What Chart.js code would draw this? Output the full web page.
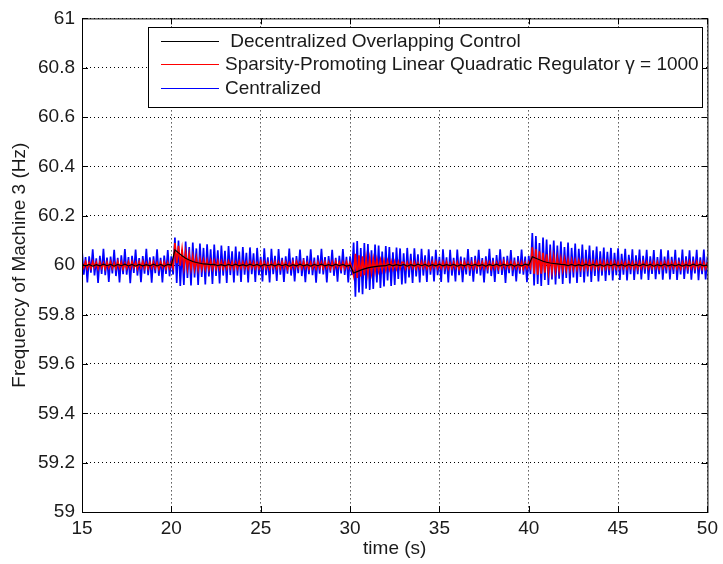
<!DOCTYPE html>
<html>
<head>
<meta charset="utf-8">
<script src="https://cdn.jsdelivr.net/npm/chart.js@4.4.0/dist/chart.umd.min.js"></script>
<style>
html, body { margin: 0; padding: 0; background: #fff; }
#wrap { width: 723px; height: 564px; }
</style>
</head>
<body>
<div id="wrap"><canvas id="freqChart" width="723" height="564"></canvas></div>
<script>
// ============================================
// FREQUENCY OF MACHINE 3 - three controllers
// values are deviations from 60 Hz in mHz
// ============================================

const T_START = 15;
const STEP_FAST = 0.1;   // blue + red samples
const STEP_SLOW = 0.2;   // black samples

const xTicks = [15, 20, 25, 30, 35, 40, 45, 50];
const yTicks = [59, 59.2, 59.4, 59.6, 59.8, 60, 60.2, 60.4, 60.6, 60.8, 61];

const seriesNames = [' Decentralized Overlapping Control', 'Sparsity-Promoting Linear Quadratic Regulator \u03b3 = 1000', 'Centralized'];

// Centralized (blue), one row per second
const centralizedDev = [
    60,-38,33,-70,36,-30,64,-41,28,-72,
    38,-35,66,-40,31,-68,35,-33,62,-44,
    30,-70,40,-36,65,-38,33,-73,38,-31,
    63,-42,29,-69,37,-34,66,-40,32,-71,
    36,-32,64,-43,30,-70,39,-35,61,-45,
    36,-38,112,-72,100,-84,62,-80,96,-52,
    74,-82,92,-50,68,-80,88,-48,70,-78,
    85,-46,64,-76,84,-44,60,-74,80,-42,
    58,-72,78,-40,56,-70,76,-42,55,-68,
    74,-38,50,-70,72,-36,48,-68,70,-40,
    34,-66,68,-40,32,-70,66,-36,38,-64,
    65,-38,30,-68,36,-34,67,-42,31,-66,
    37,-32,63,-44,29,-69,38,-36,64,-40,
    31,-71,40,-34,66,-37,33,-70,37,-30,
    62,-43,30,-67,38,-33,65,-39,34,-70,
    36,-40,92,-128,98,-110,70,-118,90,-95,
    86,-100,60,-96,84,-70,80,-92,55,-86,
    78,-62,74,-84,52,-80,72,-56,68,-78,
    48,-74,70,-50,46,-72,68,-46,44,-70,
    66,-42,40,-68,64,-38,36,-66,62,-40,
    34,-68,64,-36,32,-70,62,-42,30,-66,
    63,-40,35,-69,31,-37,65,-43,33,-67,
    38,-34,62,-41,29,-70,36,-33,66,-44,
    30,-68,41,-35,64,-39,34,-72,38,-32,
    61,-44,31,-66,37,-34,63,-38,35,-69,
    38,-36,130,-82,118,-76,90,-84,112,-60,
    104,-80,84,-58,100,-78,80,-55,96,-76,
    74,-52,92,-74,70,-50,88,-72,66,-48,
    84,-70,62,-46,80,-68,60,-44,76,-66,
    56,-42,72,-64,54,-40,70,-62,50,-40,
    68,-60,46,-38,66,-62,42,-36,64,-60,
    40,-36,63,-58,38,-34,62,-60,36,-35,
    61,-57,33,-36,64,-59,35,-33,60,-58,
    34,-35,62,-60,31,-37,63,-56,36,-34,
    60,-59,35,-33,62,-61,32,-36,63,-58,
    35
];

// Sparsity-promoting LQR (red), one row per second
const sparseLqrDev = [
    12,-9,14,-13,10,-12,15,-8,11,-14,
    13,-11,9,-15,12,-10,14,-12,10,-13,
    15,-10,12,-14,9,-12,13,-11,14,-9,
    11,-14,13,-9,15,-12,10,-13,12,-11,
    14,-12,10,-15,12,-9,13,-14,11,-12,
    12,-10,90,8,78,-2,64,-8,52,-12,
    44,-14,36,-16,30,-17,25,-16,21,-15,
    20,-16,18,-15,17,-14,16,-15,15,-14,
    14,-13,15,-12,13,-14,12,-13,14,-11,
    13,-12,11,-14,14,-10,12,-13,10,-12,
    15,-11,13,-12,10,-14,12,-9,14,-13,
    11,-13,14,-10,12,-15,9,-12,13,-11,
    14,-9,12,-13,15,-11,10,-14,12,-12,
    10,-14,13,-11,12,-13,14,-10,11,-15,
    13,-12,15,-9,11,-14,12,-13,14,-10,
    12,-10,-42,46,-52,40,-46,36,-40,30,
    -34,28,-30,25,-26,22,-22,20,-20,18,
    -18,17,-16,15,-15,14,-14,13,-13,12,
    12,-13,11,-12,13,-11,12,-14,10,-12,
    14,-10,12,-13,11,-15,13,-9,15,-12,
    10,-12,14,-11,13,-14,9,-13,12,-10,
    13,-15,11,-12,14,-9,12,-14,10,-13,
    15,-11,13,-10,12,-13,14,-12,11,-14,
    11,-13,10,-14,13,-12,15,-10,12,-11,
    14,-12,12,-11,10,-13,13,-15,11,-12,
    12,-10,72,-34,64,-38,56,-34,50,-30,
    44,-28,38,-26,34,-24,30,-22,27,-20,
    25,-19,22,-18,20,-17,19,-16,18,-15,
    17,-15,16,-14,15,-14,15,-13,14,-13,
    16,-14,15,-13,14,-12,15,-13,14,-12,
    13,-12,14,-11,12,-13,13,-10,12,-14,
    11,-13,13,-12,14,-10,12,-13,10,-12,
    14,-11,12,-14,11,-12,13,-9,15,-13,
    12,-10,14,-13,10,-14,12,-11,13,-12,
    15,-12,11,-13,14,-10,12,-14,11,-13,
    12
];

// Decentralized overlapping (black), five samples per second
const overlappingDev = [
    4,-3,3,-4,2,   -3,4,-2,3,-4,   3,-2,4,-3,3,   -4,3,-3,2,-3,  4,-3,3,-4,3,
    0,62,50,38,28, 21,15,11,8,5,   4,2,3,-2,2,    -3,3,-2,4,-3,  2,-3,4,-2,3,
    -4,3,-2,3,-3,  4,-2,3,-4,2,    -3,4,-3,2,-4,  3,-2,4,-3,2,   -3,4,-2,3,-4,
    0,-32,-26,-20,-15, -11,-8,-6,-4,-3, -2,3,-3,2,-2, 3,-4,2,-3,4, -2,3,-4,2,-3,
    4,-3,2,-2,3,   -4,2,-3,4,-2,   3,-3,2,-4,3,   -2,4,-3,3,-2,  3,-4,2,-3,4,
    0,34,28,22,16, 12,9,7,5,3,     2,-2,3,-3,2,   -3,4,-2,3,-3,  2,-4,3,-2,4,
    -3,2,-4,3,-2,  3,-3,4,-2,3,    -4,2,-3,4,-3,  2,-3,3,-4,2,   -3,4,-2,3,-3,
    2
];

function toPoints(dev, step) {
    return dev.map((d, i) => ({ x: T_START + i * step, y: 60 + d / 1000 }));
}

const FONT = '"Liberation Sans", Arial, sans-serif';
const TEXT_COLOR = '#1a1a1a';
const lineColors = ['#000000', '#ff0000', '#0000ff'];

const matlabFrame = {
    id: 'matlabFrame',
    afterDatasetsDraw(chart) {
        const { ctx, chartArea: a, scales: { x, y } } = chart;
        ctx.save();
        ctx.strokeStyle = '#000';
        ctx.lineWidth = 1;
        ctx.setLineDash([]);
        ctx.strokeRect(a.left + 0.5, a.top + 0.5, a.right - a.left, a.bottom - a.top);

        // inward ticks, MATLAB style
        ctx.beginPath();
        xTicks.forEach(v => {
            const px = Math.round(x.getPixelForValue(v)) + 0.5;
            ctx.moveTo(px, a.bottom); ctx.lineTo(px, a.bottom - 6);
            ctx.moveTo(px, a.top); ctx.lineTo(px, a.top + 6);
        });
        yTicks.forEach(v => {
            const py = Math.round(y.getPixelForValue(v)) + 0.5;
            ctx.moveTo(a.left, py); ctx.lineTo(a.left + 6, py);
            ctx.moveTo(a.right, py); ctx.lineTo(a.right - 6, py);
        });
        ctx.stroke();

        // legend box
        const box = { left: 148, top: 27, width: 554, height: 80 };
        ctx.fillStyle = '#fff';
        ctx.fillRect(box.left, box.top, box.width, box.height);
        ctx.strokeRect(box.left + 0.5, box.top + 0.5, box.width, box.height);
        const rows = [41, 64, 88];
        ctx.font = '19px ' + FONT;
        ctx.textBaseline = 'middle';
        ctx.textAlign = 'left';
        seriesNames.forEach((name, i) => {
            ctx.strokeStyle = lineColors[i];
            ctx.beginPath();
            ctx.moveTo(161, rows[i] + 0.5);
            ctx.lineTo(219, rows[i] + 0.5);
            ctx.stroke();
            ctx.fillStyle = TEXT_COLOR;
            ctx.fillText(name, 225, rows[i] + 1);
        });
        ctx.restore();
    }
};

new Chart(document.getElementById('freqChart'), {
    type: 'line',
    data: {
        datasets: [
            { label: seriesNames[0], data: toPoints(overlappingDev, STEP_SLOW), borderColor: lineColors[0], borderWidth: 1.2 },
            { label: seriesNames[1], data: toPoints(sparseLqrDev, STEP_FAST), borderColor: lineColors[1], borderWidth: 1.7 },
            { label: seriesNames[2], data: toPoints(centralizedDev, STEP_FAST), borderColor: lineColors[2], borderWidth: 1.7 }
        ]
    },
    options: {
        responsive: false,
        animation: false,
        devicePixelRatio: 1,
        layout: { padding: { top: 12, right: 14, left: 0, bottom: 0 } },
        elements: { point: { radius: 0 }, line: { borderWidth: 1, tension: 0 } },
        plugins: { legend: { display: false }, tooltip: { enabled: false } },
        scales: {
            x: {
                type: 'linear', min: 15, max: 50,
                afterBuildTicks: s => { s.ticks = xTicks.map(v => ({ value: v })); },
                afterFit: s => { s.height = 52; },
                grid: { color: '#000', lineWidth: 1, drawTicks: false },
                border: { display: false, dash: [1, 3] },
                ticks: { color: TEXT_COLOR, font: { family: FONT, size: 19 }, padding: 5, maxRotation: 0 },
                title: { display: true, text: 'time (s)', color: TEXT_COLOR, font: { family: FONT, size: 19 }, padding: { top: 0, bottom: 4 } }
            },
            y: {
                type: 'linear', min: 59, max: 61,
                afterBuildTicks: s => { s.ticks = yTicks.map(v => ({ value: v })); },
                afterFit: s => { s.width = 82; },
                grid: { color: '#000', lineWidth: 1, drawTicks: false },
                border: { display: false, dash: [1, 3] },
                ticks: { color: TEXT_COLOR, font: { family: FONT, size: 19 }, padding: 7, callback: v => String(+v.toFixed(1)) },
                title: { display: true, text: 'Frequency of Machine 3 (Hz)', color: TEXT_COLOR, font: { family: FONT, size: 19 }, padding: { top: 8, bottom: 0 } }
            }
        }
    },
    plugins: [matlabFrame]
});
</script>
</body>
</html>
